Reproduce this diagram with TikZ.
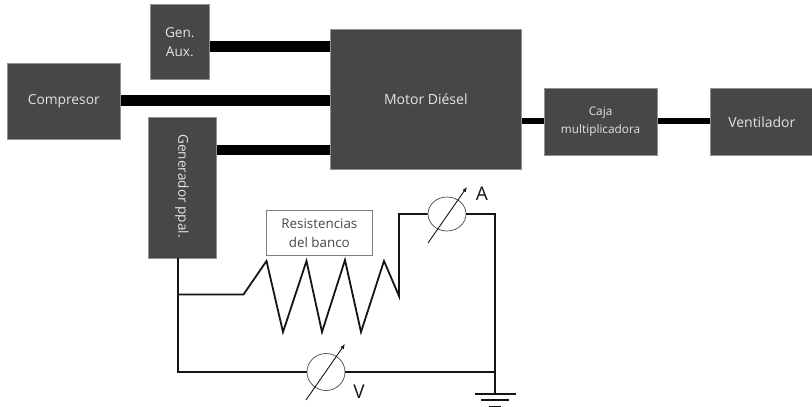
\documentclass[tikz,border=0pt]{standalone}
\usepackage{fontspec}
\setmainfont{Open Sans}
\usetikzlibrary{calc,arrows.meta,shapes.geometric}
\definecolor{boxgray}{HTML}{474747}
\definecolor{boxtext}{HTML}{E4E4E4}
\definecolor{wirek}{HTML}{151515}
\tikzset{
  x=1pt,y=-1pt,
  darkbox/.style={draw=boxgray!60!white,line width=.6pt,fill=boxgray,text=boxtext,inner sep=0pt,align=center,anchor=north west},
  shaft/.style={draw=black,line cap=butt},
  wire/.style={draw=wirek,line width=1.8pt,line join=miter},
  meter/.style={draw=boxgray,fill=white,line width=.7pt,ellipse,inner sep=0pt},
  needle/.style={draw=wirek,line width=.9pt,-{Latex[length=5pt,width=4pt]}},
  letter/.style={font=\fontsize{19}{19}\selectfont,text=wirek,inner sep=0pt},
}
\begin{document}
\begin{tikzpicture}
\useasboundingbox (0,0) rectangle (812,407);
\node[darkbox,minimum width=59pt,minimum height=75pt,font=\fontsize{13.6}{19}\selectfont] (aux) at (150,4) {Gen.\\Aux.};
\node[darkbox,minimum width=113pt,minimum height=76pt,font=\fontsize{13.8}{16}\selectfont] (comp) at (7,63) {Compresor};
\node[darkbox,minimum width=68pt,minimum height=141pt] (gen) at (148,117) {};
\node[rotate=-90,text=boxtext,font=\fontsize{13.6}{16}\selectfont,inner sep=0pt] (gentext) at (182,186) {Generador ppal.};
\node[darkbox,minimum width=191pt,minimum height=140pt,font=\fontsize{14}{16}\selectfont] (motor) at (330,29) {Motor Diésel};
\node[darkbox,minimum width=113.5pt,minimum height=67pt,font=\fontsize{11.8}{17.5}\selectfont] (caja) at (543.5,88) {Caja\\multiplicadora};
\node[darkbox,minimum width=103pt,minimum height=67pt,font=\fontsize{14}{16}\selectfont] (vent) at (710,88) {Ventilador};
\draw[shaft,line width=11pt] (aux.east |- 0,46) -- (motor.west |- 0,46);
\draw[shaft,line width=11pt] (comp.east |- 0,100.5) -- (motor.west |- 0,100.5);
\draw[shaft,line width=10.5pt] (gen.east |- 0,150) -- (motor.west |- 0,150);
\draw[shaft,line width=6pt] (motor.east |- 0,120.5) -- (caja.west |- 0,120.5);
\draw[shaft,line width=6pt] (caja.east |- 0,120.5) -- (vent.west |- 0,120.5);
\node[draw=boxgray!70!white,line width=.7pt,fill=white,minimum width=106pt,minimum height=45pt,inner sep=0pt,align=center,anchor=north west,text=boxgray,font=\fontsize{13.4}{19}\selectfont] (res) at (266,210) {Resistencias\\del banco};
\coordinate (gout) at (178,258);
\coordinate (tap) at (178,294.5);
\coordinate (lowleft) at (178,372);
\coordinate (gnd) at (495,372);
\coordinate (gtop) at (495,214);
\coordinate (gbot) at (495,394);
\coordinate (rstart) at (243.5,294.5);
\coordinate (rend) at (399,296);
\coordinate (rup) at (399,214);
\node[meter,minimum width=38pt,minimum height=34pt] (ma) at (447,214) {};
\node[meter,minimum width=38pt,minimum height=37pt] (mv) at (326,372) {};
\draw[wire] (gout) -- (lowleft) -- (mv.west);
\draw[wire] (mv.east) -- (gnd);
\draw[wire] (tap) -- (rstart) -- (266.5,261) -- (283,332) -- (306.5,261) -- (322,332) -- (345,260) -- (361,332) -- (384,261) -- (rend) -- (rup) -- (ma.west);
\draw[wire] (ma.east) -- (gtop) -- (gbot);
\draw[needle] (428,243) -- (467,187);
\draw[needle] (306,400) -- (345,344);
\node[letter] (la) at (482,194) {A};
\node[letter] (lv) at (359,392) {V};
\coordinate (e1a) at (475,394); \coordinate (e1b) at (516,394);
\coordinate (e2a) at (481,400); \coordinate (e2b) at (509,400);
\coordinate (e3a) at (489,406.5); \coordinate (e3b) at (501,406.5);
\draw[wire] (e1a) -- (e1b);
\draw[wire] (e2a) -- (e2b);
\draw[wire] (e3a) -- (e3b);
\end{tikzpicture}
\end{document}
